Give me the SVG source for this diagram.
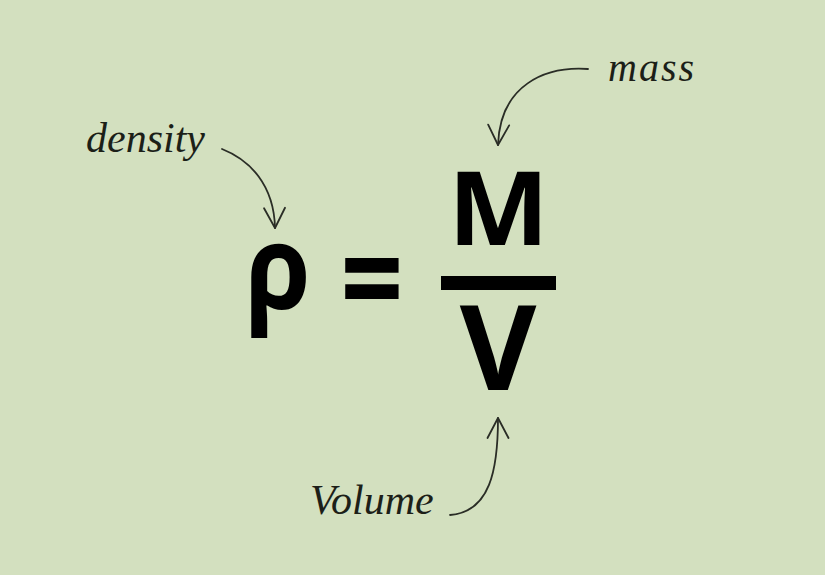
<svg xmlns="http://www.w3.org/2000/svg" width="825" height="575" viewBox="0 0 825 575">
<style>
.lbl{font-family:"Liberation Serif","Times New Roman",serif;font-style:italic;font-size:42px;fill:#1c1f18}
.big{font-family:"Open Sans","Liberation Sans",Arial,sans-serif;font-weight:bold;fill:#000}
.con{fill:none;stroke:#2a2d26;stroke-width:1.8;stroke-linecap:round}
</style>
<defs>
<marker id="ah" markerUnits="userSpaceOnUse" markerWidth="30" markerHeight="30" viewBox="-25 -15 30 30" refX="0" refY="0" orient="auto">
<path d="M-20,-10.5 L0,0 L-20,10.5" fill="none" stroke="#2a2d26" stroke-width="1.8" stroke-linecap="round" stroke-linejoin="round"/>
</marker>
</defs>
<rect width="825" height="575" fill="#d3e0bf"/>
<g id="connectors">
<path class="con" d="M222,149 C250,160 274,185 275,228" marker-end="url(#ah)"/>
<path class="con" d="M588,69 C545,66 500,85 498,145" marker-end="url(#ah)"/>
<path class="con" d="M450,515 C490,512 498,470 498,418" marker-end="url(#ah)"/>
</g>
<g id="density"><text class="lbl" x="86" y="152">density</text></g>
<g id="mass"><text class="lbl" x="608" y="81" style="letter-spacing:2px;font-size:40px">mass</text></g>
<g id="volume"><text class="lbl" x="310" y="514">Volume</text></g>
<g id="rho"><text class="big" transform="translate(245,309) scale(0.9,1)" x="0" y="0" font-size="118">ρ</text></g>
<g id="equals"><text class="big" transform="translate(372,327) scale(1,1.25)" x="0" y="0" font-size="110" text-anchor="middle">=</text></g>
<g id="fraction">
<text class="big" transform="translate(498.5,245) scale(1.05,1)" x="0" y="0" font-size="102" text-anchor="middle">M</text>
<rect x="441" y="276" width="115" height="14" fill="#000"/>
<text class="big" x="498" y="390" font-size="118" text-anchor="middle">V</text>
</g>
</svg>
